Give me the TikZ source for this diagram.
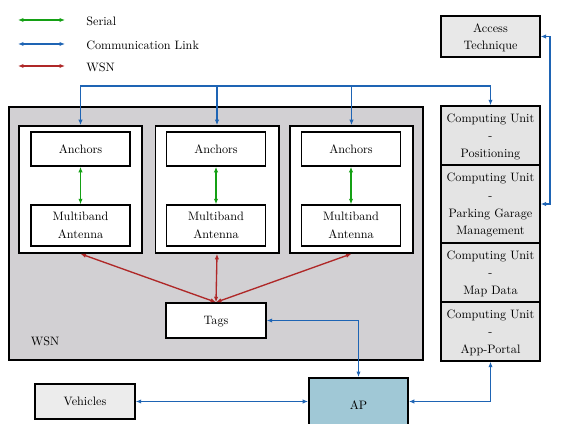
\documentclass[tikz,border=0pt]{standalone}
\usetikzlibrary{arrows.meta, positioning}

\definecolor{wsngray}{RGB}{210,208,211}
\definecolor{cugray}{RGB}{228,228,228}
\definecolor{apblue}{RGB}{160,200,214}
\definecolor{serialgreen}{RGB}{20,160,20}
\definecolor{commblue}{RGB}{30,100,180}
\definecolor{wsnred}{RGB}{175,40,40}

\begin{document}
\begin{tikzpicture}[x=0.82pt, y=-0.82pt, >={Latex[length=4.5pt,width=3.6pt]},
  font=\fontsize{10}{14.5}\selectfont]

  % Styles
  \tikzstyle{box} = [rectangle, draw=black, line width=1.2pt, fill=white, align=center, inner sep=1pt, text depth=0pt]
  \tikzstyle{anchorbox} = [box, minimum width=81pt, minimum height=28pt]
  \tikzstyle{antbox} = [box, minimum width=81pt, minimum height=33.6pt]
  \tikzstyle{group} = [box, line width=1.5pt, minimum width=101pt, minimum height=104pt]
  \tikzstyle{cubox} = [box, fill=cugray, minimum width=81pt, minimum height=48.4pt]
  \tikzstyle{serial} = [<->, serialgreen, line width=1.1pt]
  \tikzstyle{comm} = [commblue, line width=1.1pt]
  \tikzstyle{wsn} = [<->, wsnred, line width=1.1pt]

  \useasboundingbox (0,0) rectangle (567,424);

  % Legend
  \coordinate (sa) at (18,20);  \coordinate (sb) at (65,20);
  \coordinate (ca) at (18,44);  \coordinate (cb) at (65,44);
  \coordinate (wa) at (18,66);  \coordinate (wb) at (65,66);
  \node[anchor=west] (lserial) at (82,21) {Serial};
  \node[anchor=west] (lcomm) at (82,45) {Communication Link};
  \node[anchor=west] (lwsn) at (82,67) {WSN};
  \draw[serial] (sa) -- (sb);
  \draw[comm, <->] (ca) -- (cb);
  \draw[wsn] (wa) -- (wb);

  % WSN area
  \node[rectangle, draw=black, line width=1.2pt, fill=wsngray, minimum width=339.5pt, minimum height=207.5pt] (wsnarea) at (216,233.5) {};
  \node (wsnlabel) at (45,341) {WSN};

  % Groups
  \node[group] (g1) at (80.5,189.5) {};
  \node[group] (g2) at (217,189.5) {};
  \node[group] (g3) at (351.5,189.5) {};
  \node[anchorbox] (anc1) at (80.5,149) {Anchors};
  \node[anchorbox] (anc2) at (216,149) {Anchors};
  \node[anchorbox] (anc3) at (351,149) {Anchors};
  \node[antbox] (ant1) at (80.5,225.5) {Multiband\\Antenna};
  \node[antbox] (ant2) at (216,225.5) {Multiband\\Antenna};
  \node[antbox] (ant3) at (351,225.5) {Multiband\\Antenna};
  \node[box, minimum width=82pt, minimum height=28.7pt] (tags) at (216,320.5) {Tags};

  % Outside
  \node[box, fill=cugray!85, minimum width=81pt, minimum height=33.6pt] (acc) at (490.5,36.5) {Access\\Technique};
  \node[cubox] (cu1) at (490.5,135.5) {Computing Unit\\-\\Positioning};
  \node[cubox, minimum height=64pt] (cu2) at (490.5,204) {Computing Unit\\-\\Parking Garage\\Management};
  \node[cubox] (cu3) at (490.5,272.5) {Computing Unit\\-\\Map Data};
  \node[cubox] (cu4) at (490.5,331.5) {Computing Unit\\-\\App-Portal};
  \node[box, fill=gray!15, minimum width=82pt, minimum height=28.7pt] (veh) at (85,401.5) {Vehicles};
  \node[box, line width=1.6pt, fill=apblue, minimum width=81pt, minimum height=44.3pt] (ap) at (358.5,405) {AP};

  % Arrows
  \coordinate (bus) at (0,86);
  \coordinate (loop) at (550,0);
  \draw[serial] (anc1.south) -- (ant1.north);
  \draw[serial] (anc2.south) -- (ant2.north);
  \draw[serial] (anc3.south) -- (ant3.north);
  \draw[comm, <->] (g1.north) -- (g1.north |- bus) -| (cu1.north);
  \draw[comm, ->] (g2.north |- bus) -- (g2.north);
  \draw[comm, ->] (g3.north |- bus) -- (g3.north);
  \draw[wsn] (tags.north) -- (g1.south);
  \draw[wsn] (tags.north) -- (g2.south);
  \draw[wsn] (tags.north) -- (g3.south);
  \draw[comm, <->] (tags.east) -| (ap.north);
  \draw[comm, <->] (veh.east) -- (veh.east -| ap.west);
  \draw[comm, <->] (ap.east |- veh.east) -| (cu4.south);
  \draw[comm, <->] (cu2.east) -- (cu2.east -| loop) |- (acc.east);

\end{tikzpicture}
\end{document}
